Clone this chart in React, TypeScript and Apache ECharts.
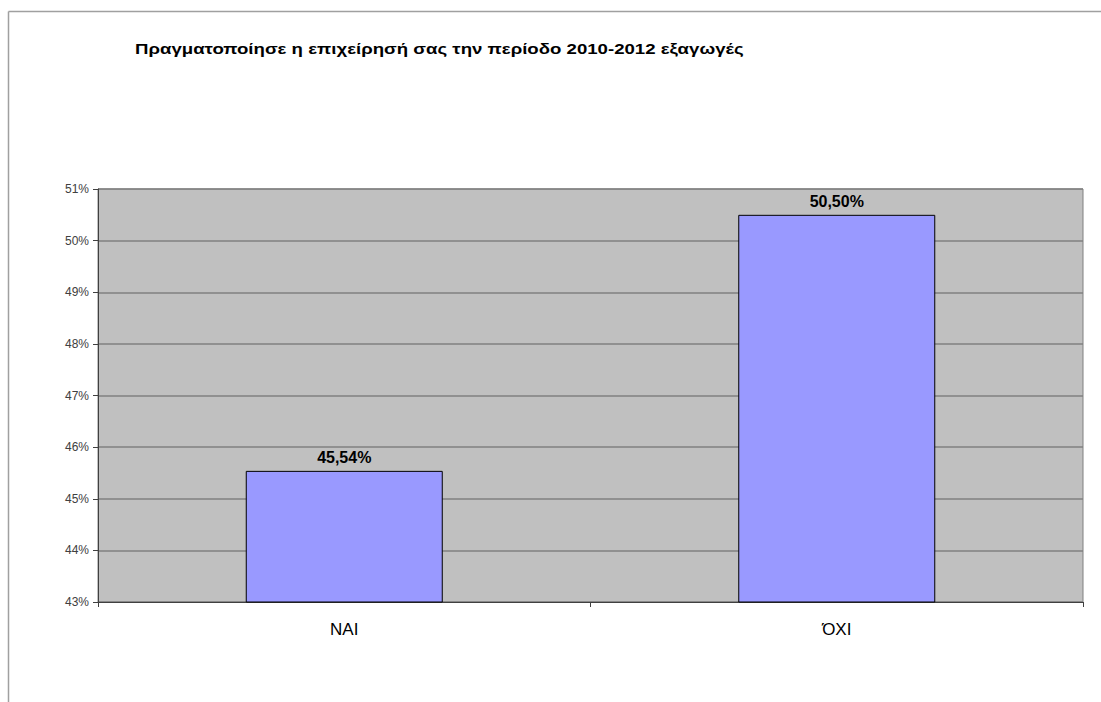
import React, { useEffect, useRef } from "react";
import * as echarts from "echarts";

const title = "Πραγματοποίησε η επιχείρησή σας την περίοδο 2010-2012 εξαγωγές";
const categories = ["ΝΑΙ", "ΌΧΙ"];
const values = [45.54, 50.5];
const yMin = 43;
const yMax = 51;
const yStep = 1;

export default function App() {
  const ref = useRef<HTMLDivElement>(null);
  useEffect(() => {
    const chart = echarts.init(ref.current!, null, { renderer: "svg" });
    chart.setOption({
      animation: false,
      backgroundColor: "#ffffff",
      graphic: [
        { type: "line", shape: { x1: 8.5, y1: 11.5, x2: 1101, y2: 11.5 }, style: { stroke: "#a0a0a0", lineWidth: 1.5 } },
        { type: "line", shape: { x1: 8.5, y1: 11.5, x2: 8.5, y2: 702 }, style: { stroke: "#a0a0a0", lineWidth: 1.5 } },
        {
          type: "text",
          x: 135,
          y: 49,
          scaleX: 1.33,
          style: {
            text: title,
            fontFamily: "Liberation Sans, Arial",
            fontSize: 14,
            fontWeight: "bold",
            fill: "#000",
            verticalAlign: "middle",
          },
        },
      ],
      grid: {
        left: 98,
        top: 189,
        right: 18,
        bottom: 100,
        show: true,
        backgroundColor: "#c0c0c0",
        borderColor: "#808080",
        borderWidth: 1,
      },
      xAxis: {
        type: "category",
        data: categories,
        axisLine: { lineStyle: { color: "#404040", width: 1 } },
        axisTick: { show: true, alignWithLabel: false, length: 5, lineStyle: { color: "#404040" } },
        axisLabel: { fontFamily: "Liberation Sans, Arial", fontSize: 17, color: "#000", margin: 19 },
      },
      yAxis: {
        type: "value",
        min: yMin,
        max: yMax,
        interval: yStep,
        axisLine: { show: true, lineStyle: { color: "#404040", width: 1 } },
        axisTick: { show: true, length: 5, lineStyle: { color: "#404040" } },
        axisLabel: {
          fontFamily: "Liberation Sans, Arial",
          fontSize: 12,
          color: "#404040",
          margin: 9,
          formatter: (v: number) => `${v}%`,
        },
        splitLine: { show: true, lineStyle: { color: "#808080", width: 1.5 } },
      },
      series: [
        {
          type: "bar",
          data: values,
          barWidth: "40%",
          itemStyle: { color: "#9999ff", borderColor: "#000000", borderWidth: 1 },
          label: {
            show: true,
            position: "top",
            distance: 5,
            fontFamily: "Liberation Sans, Arial",
            fontSize: 16,
            fontWeight: "bold",
            color: "#000",
            formatter: (p: any) => p.value.toFixed(2).replace(".", ",") + "%",
          },
        },
      ],
    });
    return () => chart.dispose();
  }, []);
  return <div ref={ref} style={{ position: "absolute", left: 0, top: 0, width: 1101, height: 702 }} />;
}
